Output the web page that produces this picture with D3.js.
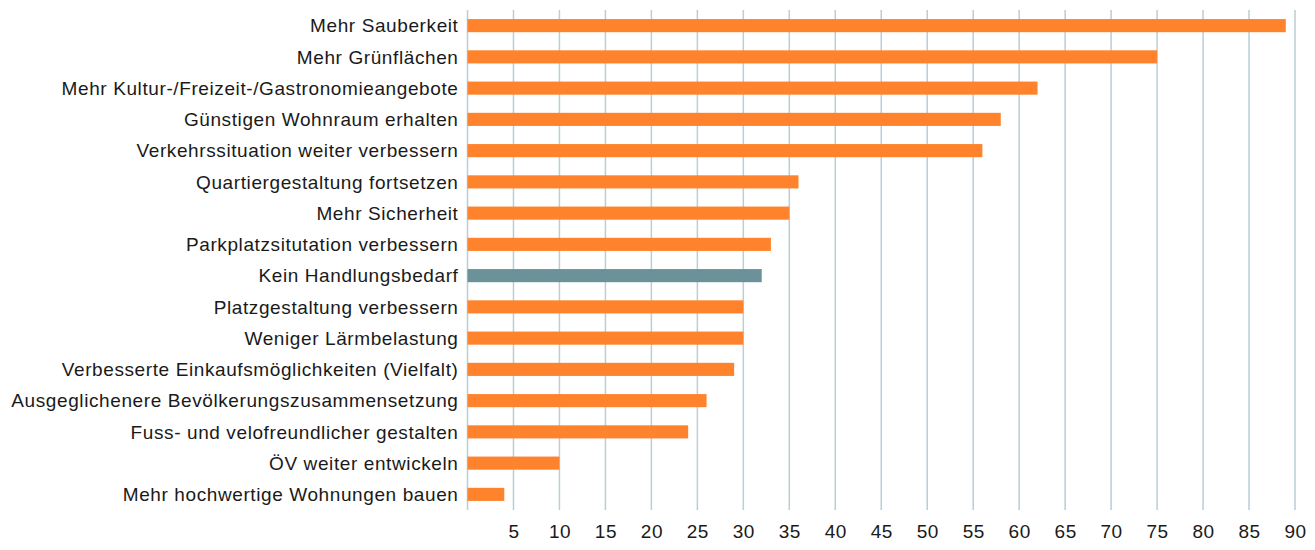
<!DOCTYPE html>
<html>
<head>
<meta charset="utf-8">
<title>Handlungsbedarf</title>
<script src="https://d3js.org/d3.v7.min.js"></script>
<style>
  body { margin: 0; background: #fff; }
  text { font-family: "Liberation Sans", Arial, sans-serif; fill: #1a1a1a; }
</style>
</head>
<body>
<script>
var categories = [
  "Mehr Sauberkeit",
  "Mehr Grünflächen",
  "Mehr Kultur-/Freizeit-/Gastronomieangebote",
  "Günstigen Wohnraum erhalten",
  "Verkehrssituation weiter verbessern",
  "Quartiergestaltung fortsetzen",
  "Mehr Sicherheit",
  "Parkplatzsitutation verbessern",
  "Kein Handlungsbedarf",
  "Platzgestaltung verbessern",
  "Weniger Lärmbelastung",
  "Verbesserte Einkaufsmöglichkeiten (Vielfalt)",
  "Ausgeglichenere Bevölkerungszusammensetzung",
  "Fuss- und velofreundlicher gestalten",
  "ÖV weiter entwickeln",
  "Mehr hochwertige Wohnungen bauen"
];
var values = [89, 75, 62, 58, 56, 36, 35, 33, 32, 30, 30, 29, 26, 24, 10, 4];
var tickValues = [5, 10, 15, 20, 25, 30, 35, 40, 45, 50, 55, 60, 65, 70, 75, 80, 85, 90];
var gridValues = [0].concat(tickValues);

var width = 1315, height = 550;
var plotLeft = 467.5, plotRight = 1295, plotTop = 10, plotBottom = 510;

var svg = d3.select("body").append("svg")
  .attr("width", width)
  .attr("height", height);

var x = d3.scaleLinear().domain([0, 90]).range([plotLeft, plotRight]);
var y = d3.scaleBand().domain(categories).range([plotTop, plotBottom]).paddingInner(0.58).paddingOuter(0.29);

// gridlines
svg.append("g")
  .selectAll("line")
  .data(gridValues)
  .enter().append("line")
    .attr("x1", function(d) { return x(d); })
    .attr("x2", function(d) { return x(d); })
    .attr("y1", plotTop)
    .attr("y2", plotBottom)
    .attr("stroke", "#b7cfd5")
    .attr("stroke-width", 1.5);

// bars
svg.append("g")
  .selectAll("rect")
  .data(categories)
  .enter().append("rect")
    .attr("x", x(0))
    .attr("y", function(d) { return y(d); })
    .attr("width", function(d, i) { return x(values[i]) - x(0); })
    .attr("height", y.bandwidth())
    .attr("fill", function(d) { return d === "Kein Handlungsbedarf" ? "#6b9299" : "#ff832c"; });

// category labels
svg.append("g")
  .selectAll("text")
  .data(categories)
  .enter().append("text")
    .attr("x", plotLeft - 9)
    .attr("y", function(d) { return y(d) + y.bandwidth() / 2; })
    .attr("dy", "0.36em")
    .attr("text-anchor", "end")
    .style("font-size", "19px")
    .style("letter-spacing", "0.6px")
    .text(function(d) { return d; });

// x axis
var xAxis = d3.axisBottom(x).tickValues(tickValues).tickSize(0).tickPadding(0);
var gx = svg.append("g")
  .attr("transform", "translate(0," + (plotBottom + 14) + ")")
  .call(xAxis);
gx.select(".domain").remove();
gx.selectAll("text")
  .style("font-size", "19px")
  .style("letter-spacing", "0.5px")
  .style("font-family", "'Liberation Sans', Arial, sans-serif")
  .attr("fill", "#1a1a1a");
</script>
</body>
</html>
